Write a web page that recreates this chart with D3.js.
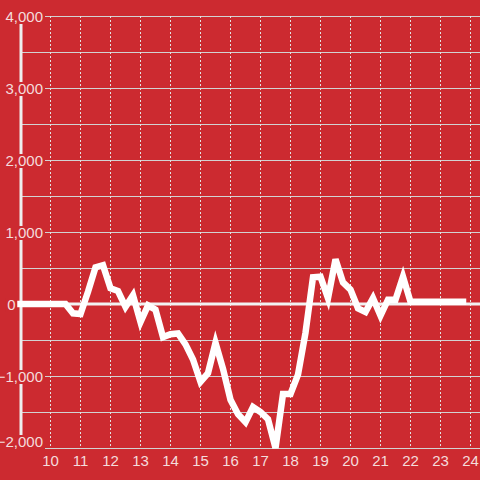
<!DOCTYPE html>
<html>
<head>
<meta charset="utf-8">
<script src="https://cdn.jsdelivr.net/npm/d3@7"></script>
<style>
  html, body { margin: 0; padding: 0; background: #cc2a30; }
  svg { display: block; }
</style>
</head>
<body>
<svg id="chart" width="480" height="480"></svg>
<script>
// ---- data ----
const hours = [9, 10.5, 10.75, 11, 11.25, 11.5, 11.75, 12, 12.25, 12.5, 12.75, 13, 13.25, 13.5, 13.75,
  14, 14.25, 14.5, 14.75, 15, 15.25, 15.5, 15.75, 16, 16.25, 16.5, 16.75, 17, 17.25, 17.5, 17.75,
  18, 18.25, 18.5, 18.75, 19, 19.25, 19.5, 19.75, 20, 20.25, 20.5, 20.75, 21, 21.25, 21.5, 21.75,
  22, 23.75];
const values = [0, 0, -130, -140, 170, 510, 540, 220, 180, -40, 120, -250, -20, -80, -460,
  -420, -410, -560, -770, -1080, -960, -540, -900, -1330, -1530, -1640, -1430, -1500, -1600, -2000, -1250,
  -1250, -980, -400, 370, 380, 80, 620, 300, 200, -60, -110, 80, -160, 60, 60, 380,
  30, 30];
const xTicks = [10, 11, 12, 13, 14, 15, 16, 17, 18, 19, 20, 21, 22, 23, 24];
const yTicks = [-2000, -1000, 0, 1000, 2000, 3000, 4000];
const yGrid = [-2000, -1500, -1000, -500, 500, 1000, 1500, 2000, 2500, 3000, 3500, 4000];

// ---- drawing ----
const bg = "#cc2a30";
const labelColor = "#f4dcdc";
const svg = d3.select("#chart");
svg.append("rect").attr("width", 480).attr("height", 480).attr("fill", bg);

const x = d3.scaleLinear().domain([10, 24]).range([50.5, 470.5]);
const y = d3.scaleLinear().domain([-2000, 4000]).range([448, 16]);
const left = 21, right = 480;

// horizontal gridlines
svg.append("g").selectAll("line").data(yGrid).join("line")
  .attr("x1", left).attr("x2", right)
  .attr("y1", d => Math.round(y(d)) + 0.5).attr("y2", d => Math.round(y(d)) + 0.5)
  .attr("stroke", "#d2d2d2").attr("stroke-width", 1);

// vertical dashed gridlines
svg.append("g").selectAll("line").data(xTicks).join("line")
  .attr("x1", d => x(d)).attr("x2", d => x(d))
  .attr("y1", y(4000)).attr("y2", y(-2000))
  .attr("stroke", "#e2e2e2").attr("stroke-width", 1)
  .attr("stroke-dasharray", "2,2");

// y axis bar
svg.append("line")
  .attr("x1", left).attr("x2", left)
  .attr("y1", y(4000)).attr("y2", y(-2000))
  .attr("stroke", "#eeeeee").attr("stroke-width", 3);

// zero line
svg.append("line")
  .attr("x1", left).attr("x2", right)
  .attr("y1", y(0)).attr("y2", y(0))
  .attr("stroke", "#f2f2f2").attr("stroke-width", 3);

// y labels with background
const fmt = d3.format(",");
const yl = svg.append("g").attr("font-family", "'Liberation Sans', Arial, sans-serif")
  .attr("font-size", 15);
yTicks.forEach(v => {
  const cy = Math.min(y(v) + 1, y(-2000) - 6);
  const g = yl.append("g");
  const t = g.append("text")
    .attr("x", v === 0 ? 15.5 : 43).attr("y", cy + 5.3)
    .attr("text-anchor", "end")
    .attr("fill", labelColor)
    .text(fmt(v));
  const bb = t.node().getBBox();
  g.insert("rect", "text")
    .attr("x", bb.x - 2).attr("y", cy - 7)
    .attr("width", bb.width + 4).attr("height", 14)
    .attr("fill", bg);
});

// data line
const pts = hours.map((h, i) => [h, values[i]]);
svg.append("path")
  .datum(pts)
  .attr("d", d3.line().x(d => x(d[0])).y(d => y(d[1])))
  .attr("fill", "none")
  .attr("stroke", "#ffffff")
  .attr("stroke-width", 6.5)
  .attr("stroke-linejoin", "miter")
  .attr("stroke-linecap", "square");

// x labels
svg.append("g").attr("font-family", "'Liberation Sans', Arial, sans-serif")
  .attr("font-size", 15)
  .selectAll("text").data(xTicks).join("text")
  .attr("x", d => x(d)).attr("y", 466)
  .attr("text-anchor", "middle")
  .attr("fill", labelColor)
  .text(d => d);
</script>
</body>
</html>
